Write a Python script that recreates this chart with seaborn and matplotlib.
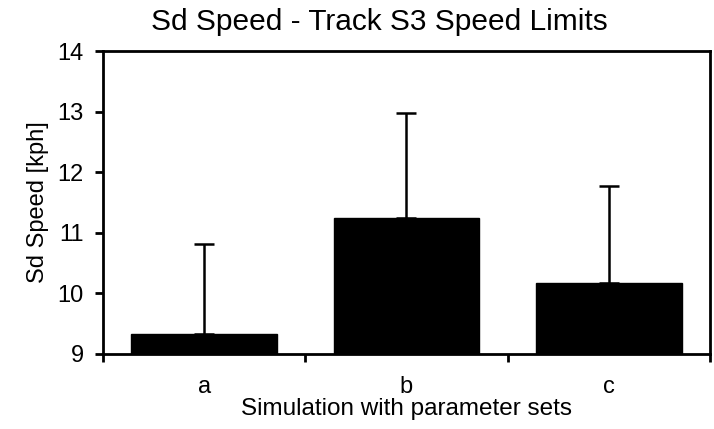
import matplotlib
matplotlib.use("Agg")
import matplotlib.pyplot as plt
import seaborn as sns
import numpy as np
import pandas as pd

categories = ["a", "b", "c"]
means = [9.33, 11.24, 10.17]
errors = [1.48, 1.73, 1.61]
yticks = [9, 10, 11, 12, 13, 14]

sns.set_style("white")
plt.rcParams["font.family"] = ["Liberation Sans", "DejaVu Sans"]
plt.rcParams["text.color"] = "black"
plt.rcParams["axes.labelcolor"] = "black"
plt.rcParams["xtick.color"] = "black"
plt.rcParams["ytick.color"] = "black"

fig = plt.figure(figsize=(7.14, 4.29), dpi=100)
ax = fig.add_axes([103/714, 1 - 354/429, (710-103)/714, (354-51)/429])

df = pd.DataFrame({"cat": categories, "val": means})
sns.barplot(data=df, x="cat", y="val", color="black", width=0.72,
            errorbar=None, ax=ax, saturation=1, edgecolor="black")

pos = np.arange(len(categories))
ax.errorbar(pos, means, yerr=[np.zeros(len(errors)), errors], fmt="none",
            ecolor="black", elinewidth=1.8, capsize=7, capthick=1.8, zorder=1)

ax.set_ylim(9, 14)
ax.set_xlim(-0.5, 2.5)
ax.set_yticks(yticks)
ax.set_yticklabels([str(t) for t in yticks])
ax.set_xticks(pos)
ax.set_xticklabels(categories)
ax.set_xticks([-0.5, 0.5, 1.5, 2.5], minor=True)
ax.tick_params(axis="x", which="major", bottom=False, length=0, labelsize=17, pad=16)
ax.tick_params(axis="x", which="minor", bottom=True, length=6, width=2, direction="out", color="black")
ax.tick_params(axis="y", which="major", left=True, length=6, width=2, direction="out",
               labelsize=17, color="black", pad=8)
for s in ax.spines.values():
    s.set_linewidth(2)
    s.set_color("black")
    s.set_visible(True)

ax.set_xlabel("Simulation with parameter sets", fontsize=17.5, labelpad=0)
ax.set_ylabel("Sd Speed [kph]", fontsize=17, labelpad=6)
ax.set_title("Sd Speed - Track S3 Speed Limits", fontsize=21.5, pad=15, x=0.455)

fig.savefig("out.png", dpi=100)
